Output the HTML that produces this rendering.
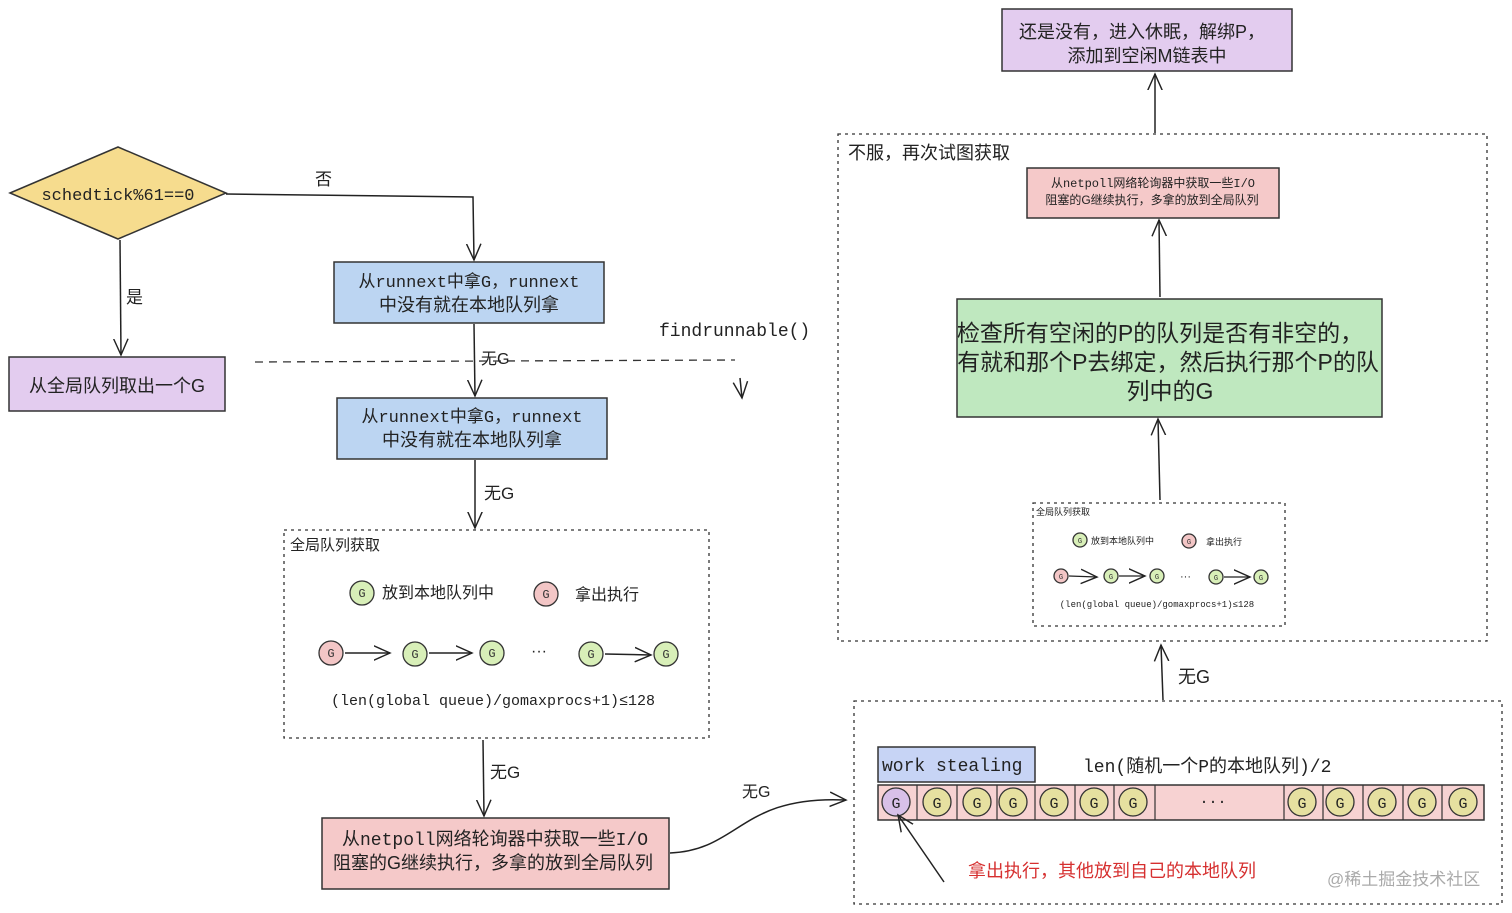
<!DOCTYPE html>
<html><head><meta charset="utf-8"><style>
html,body{margin:0;padding:0;background:#fff;}
svg{display:block;font-family:"Liberation Sans","Noto Sans CJK SC",sans-serif;}
.m{font-family:"Liberation Mono","Noto Sans CJK SC",monospace;}
</style></head><body>
<svg width="1512" height="913" viewBox="0 0 1512 913" xmlns="http://www.w3.org/2000/svg">
<defs>
<marker id="a" viewBox="0 0 20 20" refX="18" refY="10" markerWidth="18" markerHeight="18" orient="auto" markerUnits="userSpaceOnUse"><path d="M0,2 L18,10 L0,18" fill="none" stroke="#222" stroke-width="1.6"/></marker>
</defs>
<g stroke="#333" stroke-width="1.5" fill="none">
<polygon points="10,193 118,147 226,193 118,239" fill="#f6dc8e"/>
<rect x="9" y="357" width="216" height="54" fill="#e3ccef"/>
<rect x="334" y="262" width="270" height="61" fill="#bcd5f2"/>
<rect x="337" y="398" width="270" height="61" fill="#bcd5f2"/>
<rect x="322" y="818" width="347" height="71" fill="#f5c9c9"/>
<rect x="1002" y="9" width="290" height="62" fill="#e3ccef"/>
<rect x="1027" y="168" width="252" height="50" fill="#f5c9c9"/>
<rect x="957" y="299" width="425" height="118" fill="#bfe8bf"/>
<rect x="878" y="747" width="157" height="35" fill="#c7d4f5"/>
<rect x="878" y="785" width="606" height="35" fill="#f7d2d2"/>
</g>
<g stroke="#333" stroke-width="1.3" fill="none" stroke-dasharray="3,4">
<rect x="284" y="530" width="425" height="208"/>
<rect x="838" y="134" width="649" height="507"/>
<rect x="1033" y="503" width="252" height="123"/>
<rect x="854" y="701" width="648" height="203"/>
</g>
<line x1="255" y1="362" x2="735" y2="360" stroke="#333" stroke-width="1.3" stroke-dasharray="8,6"/>
<g stroke="#333" stroke-width="1.2">
<line x1="917" y1="785" x2="917" y2="820"/><line x1="957" y1="785" x2="957" y2="820"/><line x1="997" y1="785" x2="997" y2="820"/><line x1="1035" y1="785" x2="1035" y2="820"/><line x1="1075" y1="785" x2="1075" y2="820"/><line x1="1114" y1="785" x2="1114" y2="820"/><line x1="1155" y1="785" x2="1155" y2="820"/><line x1="1284" y1="785" x2="1284" y2="820"/><line x1="1323" y1="785" x2="1323" y2="820"/><line x1="1363" y1="785" x2="1363" y2="820"/><line x1="1403" y1="785" x2="1403" y2="820"/><line x1="1442" y1="785" x2="1442" y2="820"/>
</g>
<g stroke="#333" stroke-width="1.3">
<circle cx="896" cy="802" r="14" fill="#d8c0e8"/>
<circle cx="937" cy="802" r="14" fill="#e6e0a0"/><circle cx="977" cy="802" r="14" fill="#e6e0a0"/><circle cx="1013" cy="802" r="14" fill="#e6e0a0"/><circle cx="1054" cy="802" r="14" fill="#e6e0a0"/><circle cx="1094" cy="802" r="14" fill="#e6e0a0"/><circle cx="1133" cy="802" r="14" fill="#e6e0a0"/>
<circle cx="1302" cy="802" r="14" fill="#e6e0a0"/><circle cx="1340" cy="802" r="14" fill="#e6e0a0"/><circle cx="1382" cy="802" r="14" fill="#e6e0a0"/><circle cx="1422" cy="802" r="14" fill="#e6e0a0"/><circle cx="1463" cy="802" r="14" fill="#e6e0a0"/>
</g>
<g font-size="15" fill="#222" text-anchor="middle" class="m">
<text x="896" y="808">G</text><text x="937" y="808">G</text><text x="977" y="808">G</text><text x="1013" y="808">G</text><text x="1054" y="808">G</text><text x="1094" y="808">G</text><text x="1133" y="808">G</text><text x="1213" y="806">···</text>
<text x="1302" y="808">G</text><text x="1340" y="808">G</text><text x="1382" y="808">G</text><text x="1422" y="808">G</text><text x="1463" y="808">G</text>
</g>
<g stroke="#333" stroke-width="1.3">
<circle cx="362" cy="593" r="12" fill="#d8efb8"/><circle cx="546" cy="594" r="12" fill="#f3c6c6"/>
<circle cx="331" cy="653" r="12" fill="#f3c6c6"/><circle cx="415" cy="654" r="12" fill="#d8efb8"/><circle cx="492" cy="653" r="12" fill="#d8efb8"/><circle cx="591" cy="654" r="12" fill="#d8efb8"/><circle cx="666" cy="654" r="12" fill="#d8efb8"/>
<circle cx="1080" cy="540" r="7" fill="#d8efb8"/><circle cx="1189" cy="541" r="7" fill="#f3c6c6"/>
<circle cx="1061" cy="576" r="7" fill="#f3c6c6"/><circle cx="1111" cy="576" r="7" fill="#d8efb8"/><circle cx="1157" cy="576" r="7" fill="#d8efb8"/><circle cx="1216" cy="577" r="7" fill="#d8efb8"/><circle cx="1261" cy="577" r="7" fill="#d8efb8"/>
</g>
<g font-size="12" fill="#333" text-anchor="middle" class="m">
<text x="362" y="597">G</text><text x="546" y="598">G</text><text x="331" y="657">G</text><text x="415" y="658">G</text><text x="492" y="657">G</text><text x="591" y="658">G</text><text x="666" y="658">G</text>
</g>
<g font-size="7" fill="#333" text-anchor="middle" class="m">
<text x="1080" y="543">G</text><text x="1189" y="544">G</text><text x="1061" y="579">G</text><text x="1111" y="579">G</text><text x="1157" y="579">G</text><text x="1216" y="580">G</text><text x="1261" y="580">G</text>
</g>
<g stroke="#222" stroke-width="1.5" fill="none" marker-end="url(#a)">
<path d="M226,194 L473,197 L474,260"/>
<path d="M120,240 L121,355"/>
<path d="M474,324 L475,396"/>
<path d="M475,460 L475,528"/>
<path d="M483,740 L484,816"/>
<path d="M740,378 L742,398"/>
<path d="M670,853 C740,850 740,795 846,800"/>
<path d="M1163,700 L1161,645"/>
<path d="M1160,500 L1158,419"/>
<path d="M1160,297 L1159,220"/>
<path d="M1155,133 L1155,74"/>
<path d="M944,882 L898,815"/>
<path d="M345,653 L390,653"/><path d="M429,653 L472,653"/><path d="M605,654 L651,655"/>
<path d="M1069,576 L1097,577" style="stroke-width:1.2"/><path d="M1119,576 L1145,576" style="stroke-width:1.2"/><path d="M1224,577 L1250,577" style="stroke-width:1.2"/>
</g>
<g fill="#222">
<text x="118" y="200" font-size="17" text-anchor="middle" class="m">schedtick%61==0</text>
<text x="315" y="185" font-size="17">否</text>
<text x="126" y="303" font-size="17">是</text>
<text x="117" y="392" font-size="18" text-anchor="middle">从全局队列取出一个G</text>
<text x="469" y="287" font-size="17" text-anchor="middle" class="m">从runnext中拿G，runnext</text>
<text x="469" y="311" font-size="18" text-anchor="middle">中没有就在本地队列拿</text>
<text x="472" y="422" font-size="17" text-anchor="middle" class="m">从runnext中拿G，runnext</text>
<text x="472" y="446" font-size="18" text-anchor="middle">中没有就在本地队列拿</text>
<text x="481" y="364" font-size="16">无G</text>
<text x="659" y="336" font-size="18" class="m">findrunnable()</text>
<text x="484" y="499" font-size="17">无G</text>
<text x="290" y="550" font-size="15">全局队列获取</text>
<text x="382" y="598" font-size="16">放到本地队列中</text>
<text x="575" y="600" font-size="16">拿出执行</text>
<text x="531" y="656" font-size="16">···</text>
<text x="493" y="705" font-size="15" text-anchor="middle" class="m">(len(global queue)/gomaxprocs+1)≤128</text>
<text x="490" y="778" font-size="17">无G</text>
<text x="495" y="845" font-size="18" text-anchor="middle" class="m">从netpoll网络轮询器中获取一些I/O</text>
<text x="493" y="869" font-size="18" text-anchor="middle">阻塞的G继续执行，多拿的放到全局队列</text>
<text x="742" y="797" font-size="16">无G</text>
<text x="1142" y="38" font-size="18" text-anchor="middle">还是没有，进入休眠，解绑P，</text>
<text x="1147" y="62" font-size="18" text-anchor="middle">添加到空闲M链表中</text>
<text x="848" y="159" font-size="18">不服，再次试图获取</text>
<text x="1153" y="187" font-size="12" text-anchor="middle" class="m">从netpoll网络轮询器中获取一些I/O</text>
<text x="1152" y="204" font-size="12" text-anchor="middle">阻塞的G继续执行，多拿的放到全局队列</text>
<text x="1160" y="341" font-size="23" text-anchor="middle">检查所有空闲的P的队列是否有非空的，</text>
<text x="1168" y="370" font-size="23" text-anchor="middle">有就和那个P去绑定，然后执行那个P的队</text>
<text x="1170" y="399" font-size="23" text-anchor="middle">列中的G</text>
<text x="1036" y="515" font-size="9">全局队列获取</text>
<text x="1091" y="544" font-size="9">放到本地队列中</text>
<text x="1206" y="545" font-size="9">拿出执行</text>
<text x="1180" y="580" font-size="11">···</text>
<text x="1157" y="607" font-size="9" text-anchor="middle" class="m">(len(global queue)/gomaxprocs+1)≤128</text>
<text x="1178" y="683" font-size="18">无G</text>
<text x="882" y="771" font-size="18" class="m">work stealing</text>
<text x="1083" y="772" font-size="18" class="m">len(随机一个P的本地队列)/2</text>
<text x="968" y="877" font-size="18" fill="#d63030">拿出执行，其他放到自己的本地队列</text>
<text x="1327" y="885" font-size="17" fill="#aaa">@稀土掘金技术社区</text>
</g>
</svg>
</body></html>
